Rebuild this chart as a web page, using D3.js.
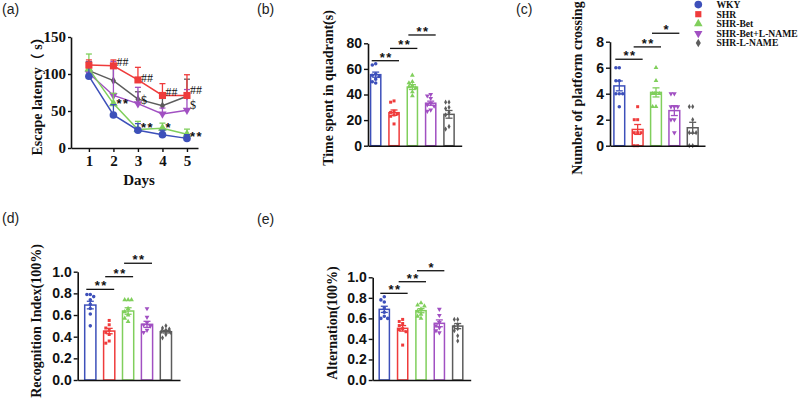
<!DOCTYPE html>
<html><head><meta charset="utf-8">
<script src="https://cdn.jsdelivr.net/npm/d3@7"></script>
<style>body{margin:0;background:#fff}svg{display:block}</style>
</head><body><svg id="c" width="800" height="400"></svg>
<script>
// ---------- data ----------
const groups = ["WKY", "SHR", "SHR-Bet", "SHR-Bet+L-NAME", "SHR-L-NAME"];
const colors = ["#3d50ba", "#ef3b3b", "#80cf5c", "#a150c2", "#5c5c5c"];

// (a) escape latency, mean and upper error
const days = [1, 2, 3, 4, 5];
const latWKY = [97, 44.6, 24, 18, 13];
const latSHR = [112, 111, 92, 71, 71];
const latBet = [107, 60, 25, 26.6, 18.5];
const latBetL = [101, 71, 60, 46, 51];
const latLN = [104.5, 91, 66, 57, 70];
const latErrWKY = [19, 14, 9, 6, 5];
const latErrSHR = [7, 8, 17, 16, 28];
const latErrBet = [20, 14, 11, 7, 7];
const latErrBetL = [15, 46, 22, 8, 28];
const latErrLN = [12, 20, 10, 10, 23];
const latMarks = [
  {day: 2, v: 116, t: "##"}, {day: 3, v: 95.5, t: "##"}, {day: 4, v: 76, t: "##"}, {day: 5, v: 79, t: "##"},
  {day: 2, v: 65, t: "**"}, {day: 3, v: 65, t: "$"}, {day: 3, v: 32, t: "**"}, {day: 4, v: 32, t: "*"},
  {day: 5, v: 58, t: "$"}, {day: 5, v: 20, t: "**"}
];

// (b) time spent in quadrant (s)
const quadMeans = [55.5, 25.8, 45.8, 33.2, 24.5];
const quadSem = [2.0, 2.1, 1.9, 1.6, 3.0];
const quadPoints = [
  [64, 63, 56, 55, 54, 52, 50, 49],
  [35, 34, 27, 26, 25, 24, 23, 17],
  [55, 50, 49, 47, 46, 45, 42, 39],
  [40, 39, 37, 33, 32, 31, 28, 27],
  [34, 34, 30, 29, 26, 24, 15, 13]
];
const quadSig = [[0, 1, 66.4, "**"], [1, 2, 76, "**"], [2, 3, 86.5, "**"]];

// (c) number of platform crossing
const crossMeans = [4.6, 1.25, 4.1, 2.7, 1.38];
const crossSem = [0.38, 0.38, 0.35, 0.38, 0.42];
const crossPoints = [
  [6, 6, 5, 5, 4, 4, 4, 3],
  [3, 2, 2, 1, 1, 1, 0, 0],
  [6, 5, 4, 4, 4, 4, 3, 3],
  [4, 4, 3, 3, 3, 2, 2, 1],
  [3, 3, 2, 1, 1, 1, 0, 0]
];
const crossSig = [[0, 1, 6.65, "**"], [1, 2, 7.6, "**"], [2, 3, 8.65, "*"]];

// (d) recognition index
const recMeans = [0.692, 0.452, 0.637, 0.514, 0.446];
const recSem = [0.035, 0.025, 0.03, 0.028, 0.012];
const recPoints = [
  [0.79, 0.79, 0.77, 0.74, 0.70, 0.66, 0.61, 0.50],
  [0.55, 0.51, 0.48, 0.46, 0.44, 0.42, 0.36, 0.34],
  [0.74, 0.74, 0.74, 0.66, 0.63, 0.60, 0.57, 0.54],
  [0.66, 0.58, 0.53, 0.51, 0.50, 0.46, 0.44],
  [0.50, 0.48, 0.47, 0.46, 0.45, 0.44, 0.42, 0.39]
];
const recSig = [[0, 1, 0.837, "**"], [1, 2, 0.954, "**"], [2, 3, 1.078, "**"]];

// (e) alternation
const altMeans = [0.688, 0.503, 0.675, 0.552, 0.525];
const altSem = [0.03, 0.027, 0.02, 0.033, 0.025];
const altPoints = [
  [0.81, 0.78, 0.76, 0.70, 0.66, 0.62, 0.60, 0.60],
  [0.59, 0.57, 0.55, 0.53, 0.50, 0.49, 0.47, 0.34],
  [0.75, 0.73, 0.72, 0.69, 0.67, 0.64, 0.62, 0.60],
  [0.69, 0.63, 0.56, 0.53, 0.51, 0.48, 0.46],
  [0.59, 0.59, 0.54, 0.52, 0.50, 0.48, 0.43, 0.38]
];
const altSig = [[0, 1, 0.844, "**"], [1, 2, 0.957, "**"], [2, 3, 1.064, "*"]];

// ---------- drawing ----------
const svg = d3.select("#c");
const SERIF = "'Liberation Serif','Times New Roman',serif";
const SANS = "'Liberation Sans',Arial,sans-serif";
const symTypes = [d3.symbolCircle, d3.symbolSquare, d3.symbolTriangle, d3.symbolTriangle, d3.symbolDiamond];
const symRot = [0, 0, 0, 180, 0];
function sym(i, size) { return d3.symbol().type(symTypes[i]).size(size)(); }

function styleAxis(g, font, fs) {
  g.select(".domain").attr("stroke", "#111").attr("stroke-width", 1.6);
  g.selectAll(".tick line").attr("stroke", "#111").attr("stroke-width", 1.4);
  g.selectAll(".tick text").attr("fill", "#111").attr("font-family", font)
    .attr("font-weight", "bold").attr("font-size", fs);
}
function panelLabel(txt, x, y) {
  svg.append("text").attr("x", x).attr("y", y).text(txt)
    .attr("font-family", SANS).attr("font-size", 14).attr("fill", "#222");
}
function yTitle(txt, x, y) {
  svg.append("text").attr("transform", `translate(${x},${y}) rotate(-90)`)
    .attr("text-anchor", "middle").attr("dy", "0.35em").text(txt)
    .attr("font-family", SERIF + ",'Noto Sans CJK SC'").attr("font-weight", "bold")
    .attr("font-size", 14).attr("fill", "#111");
}

// ----- panel (a) -----
(function () {
  const x = d3.scaleLinear().domain([0.27, 5.45]).range([71, 198]);
  const y = d3.scaleLinear().domain([0, 150]).range([148, 37]);
  const gy = svg.append("g").attr("transform", "translate(71,0)")
    .call(d3.axisLeft(y).tickValues([0, 50, 100, 150]).tickSize(3).tickPadding(2).tickSizeOuter(0));
  styleAxis(gy, SERIF, 15);
  const gx = svg.append("g").attr("transform", "translate(0,148)")
    .call(d3.axisBottom(x).tickValues(days).tickSize(4).tickPadding(3).tickSizeOuter(0).tickFormat(d3.format("d")));
  styleAxis(gx, SERIF, 15);
  yTitle("Escape latency（ s）", 37, 93);
  svg.append("text").attr("x", 139).attr("y", 185).attr("text-anchor", "middle").text("Days")
    .attr("font-family", SERIF).attr("font-weight", "bold").attr("font-size", 15).attr("fill", "#111");

  const series = [
    {i: 4, v: latLN, e: latErrLN, s: 22},
    {i: 3, v: latBetL, e: latErrBetL, s: 30},
    {i: 2, v: latBet, e: latErrBet, s: 34},
    {i: 0, v: latWKY, e: latErrWKY, s: 46},
    {i: 1, v: latSHR, e: latErrSHR, s: 50}
  ];
  const line = d3.line().x((d, k) => x(days[k])).y(d => y(d));
  series.forEach(sr => {
    const g = svg.append("g");
    const c = colors[sr.i];
    g.append("path").attr("d", line(sr.v)).attr("fill", "none").attr("stroke", c).attr("stroke-width", 1.5);
    sr.v.forEach((v, k) => {
      const cx = x(days[k]);
      g.append("line").attr("x1", cx).attr("x2", cx).attr("y1", y(v)).attr("y2", y(v + sr.e[k]))
        .attr("stroke", c).attr("stroke-width", 1.3);
      g.append("line").attr("x1", cx - 3).attr("x2", cx + 3).attr("y1", y(v + sr.e[k])).attr("y2", y(v + sr.e[k]))
        .attr("stroke", c).attr("stroke-width", 1.3);
    });
    g.selectAll("path.m").data(sr.v).join("path").attr("class", "m")
      .attr("d", sym(sr.i, sr.s)).attr("fill", c)
      .attr("transform", (d, k) => `translate(${x(days[k])},${y(d)}) rotate(${symRot[sr.i]})`);
  });
  latMarks.forEach(m => {
    const isStar = m.t.indexOf("*") >= 0;
    svg.append("text").attr("x", x(m.day) + 3).attr("y", y(m.v)).attr("dy", isStar ? "0.62em" : "0.35em")
      .text(m.t).attr("font-family", isStar ? SANS : SERIF).attr("font-weight", isStar ? "bold" : "normal")
      .attr("font-size", isStar ? 13 : 12).attr("letter-spacing", isStar ? 1.5 : 0).attr("fill", "#111");
  });
  panelLabel("(a)", 2, 14);
})();

// ----- bar panels -----
function barPanel(cfg, means, sems, pts, sig) {
  const y = d3.scaleLinear().domain([0, cfg.max]).range([cfg.y0, cfg.y1]);
  const pi = 1 - cfg.bw / cfg.step;
  const r0 = cfg.c0 - cfg.bw / 2;
  const x = d3.scaleBand().domain(groups).range([r0, r0 + cfg.step * (5 - pi)]).paddingInner(pi).paddingOuter(0);
  const cx = i => x(groups[i]) + x.bandwidth() / 2;
  const g = svg.append("g");
  // bars
  g.selectAll("rect.bar").data(means).join("rect").attr("class", "bar")
    .attr("x", (d, i) => x(groups[i]) + 0.75).attr("width", x.bandwidth() - 1.5)
    .attr("y", d => y(d)).attr("height", d => cfg.y0 - y(d))
    .attr("fill", "#fff").attr("stroke", (d, i) => colors[i]).attr("stroke-width", 1.5);
  // points (simple beeswarm)
  const cand = [0, -3.4, 3.4, -1.7, 1.7, -4.4, 4.4];
  pts.forEach((arr, i) => {
    const placed = [];
    arr.forEach(v => {
      const py = y(v);
      let best = 0, bestScore = -1;
      for (const o of cand) {
        let dmin = 99;
        placed.forEach(p => { dmin = Math.min(dmin, Math.hypot(p[0] - o, p[1] - py)); });
        if (dmin >= 3.4) { best = o; bestScore = 99; break; }
        if (dmin > bestScore) { bestScore = dmin; best = o; }
      }
      placed.push([best, py]);
    });
    g.selectAll(null).data(placed).join("path")
      .attr("d", sym(i, cfg.ps[i])).attr("fill", colors[i])
      .attr("transform", p => `translate(${cx(i) + p[0]},${p[1]}) rotate(${symRot[i]})`);
  });
  // error bars
  means.forEach((m, i) => {
    const c = colors[i], xx = cx(i);
    const lo = y(m - sems[i]), hi = y(m + sems[i]);
    g.append("line").attr("x1", xx).attr("x2", xx).attr("y1", lo).attr("y2", hi).attr("stroke", c).attr("stroke-width", 1.3);
    [lo, hi].forEach(yy => g.append("line").attr("x1", xx - 3.5).attr("x2", xx + 3.5).attr("y1", yy).attr("y2", yy)
      .attr("stroke", c).attr("stroke-width", 1.3));
  });
  // axes
  const gy = svg.append("g").attr("transform", `translate(${cfg.left},0)`)
    .call(d3.axisLeft(y).tickValues(cfg.ticks).tickSize(4).tickPadding(2).tickSizeOuter(0).tickFormat(cfg.fmt));
  styleAxis(gy, SANS, 14);
  const gx = svg.append("g").attr("transform", `translate(0,${cfg.y0})`)
    .call(d3.axisBottom(d3.scaleLinear().range([cfg.left, cfg.end])).tickValues([]).tickSizeOuter(0));
  styleAxis(gx, SANS, 13);
  // significance
  sig.forEach(s => {
    const x1 = cx(s[0]) - 4, x2 = cx(s[1]) + 5, yy = y(s[2]);
    svg.append("line").attr("x1", x1).attr("x2", x2).attr("y1", yy).attr("y2", yy).attr("stroke", "#111").attr("stroke-width", 1.3);
    svg.append("text").attr("x", (x1 + x2) / 2 + 1).attr("y", yy + 1).attr("text-anchor", "middle").text(s[3])
      .attr("font-family", SANS).attr("font-weight", "bold").attr("font-size", 13).attr("letter-spacing", 1.5).attr("fill", "#111");
  });
  yTitle(cfg.title, cfg.tx, cfg.ty);
}

const smallSyms = [10, 9, 10, 10, 8];
barPanel({left: 368, end: 461.7, y0: 145.7, y1: 43.3, max: 80, ticks: [0, 20, 40, 60, 80], fmt: d3.format("d"),
  c0: 375.7, step: 18.33, bw: 11.7, ps: smallSyms, title: "Time spent in quadrant(s)", tx: 328, ty: 88},
  quadMeans, quadSem, quadPoints, quadSig);
barPanel({left: 610, end: 705, y0: 145.7, y1: 41.7, max: 8, ticks: [0, 2, 4, 6, 8], fmt: d3.format("d"),
  c0: 619.3, step: 18.35, bw: 12.3, ps: smallSyms, title: "Number of platform crossing", tx: 577.5, ty: 88},
  crossMeans, crossSem, crossPoints, crossSig);
barPanel({left: 77.7, end: 180, y0: 380, y1: 271.7, max: 1, ticks: [0, 0.2, 0.4, 0.6, 0.8, 1.0], fmt: d3.format(".1f"),
  c0: 90.3, step: 18.9, bw: 12.7, ps: smallSyms, title: "Recognition Index(100%)", tx: 36, ty: 321},
  recMeans, recSem, recPoints, recSig);
barPanel({left: 372.7, end: 470.7, y0: 380, y1: 277.3, max: 1, ticks: [0, 0.2, 0.4, 0.6, 0.8, 1.0], fmt: d3.format(".1f"),
  c0: 384.3, step: 18.35, bw: 11.7, ps: smallSyms, title: "Alternation(100%)", tx: 331.7, ty: 323},
  altMeans, altSem, altPoints, altSig);

panelLabel("(b)", 257, 14);
panelLabel("(c)", 516, 14);
panelLabel("(d)", 2, 223);
panelLabel("(e)", 257, 224);

// ----- legend -----
const lg = svg.append("g");
const legSizes = [46, 38, 32, 30, 22];
groups.forEach((gname, i) => {
  const yy = 4.6 + i * 9.6;
  lg.append("path").attr("d", sym(i, legSizes[i])).attr("fill", colors[i])
    .attr("transform", `translate(698.3,${yy}) rotate(${symRot[i]})`);
  lg.append("text").attr("x", 716.5).attr("y", yy).attr("dy", "0.35em").text(gname)
    .attr("font-family", SERIF).attr("font-weight", "bold").attr("font-size", 9.6).attr("fill", "#111");
});
</script>
</body></html>
